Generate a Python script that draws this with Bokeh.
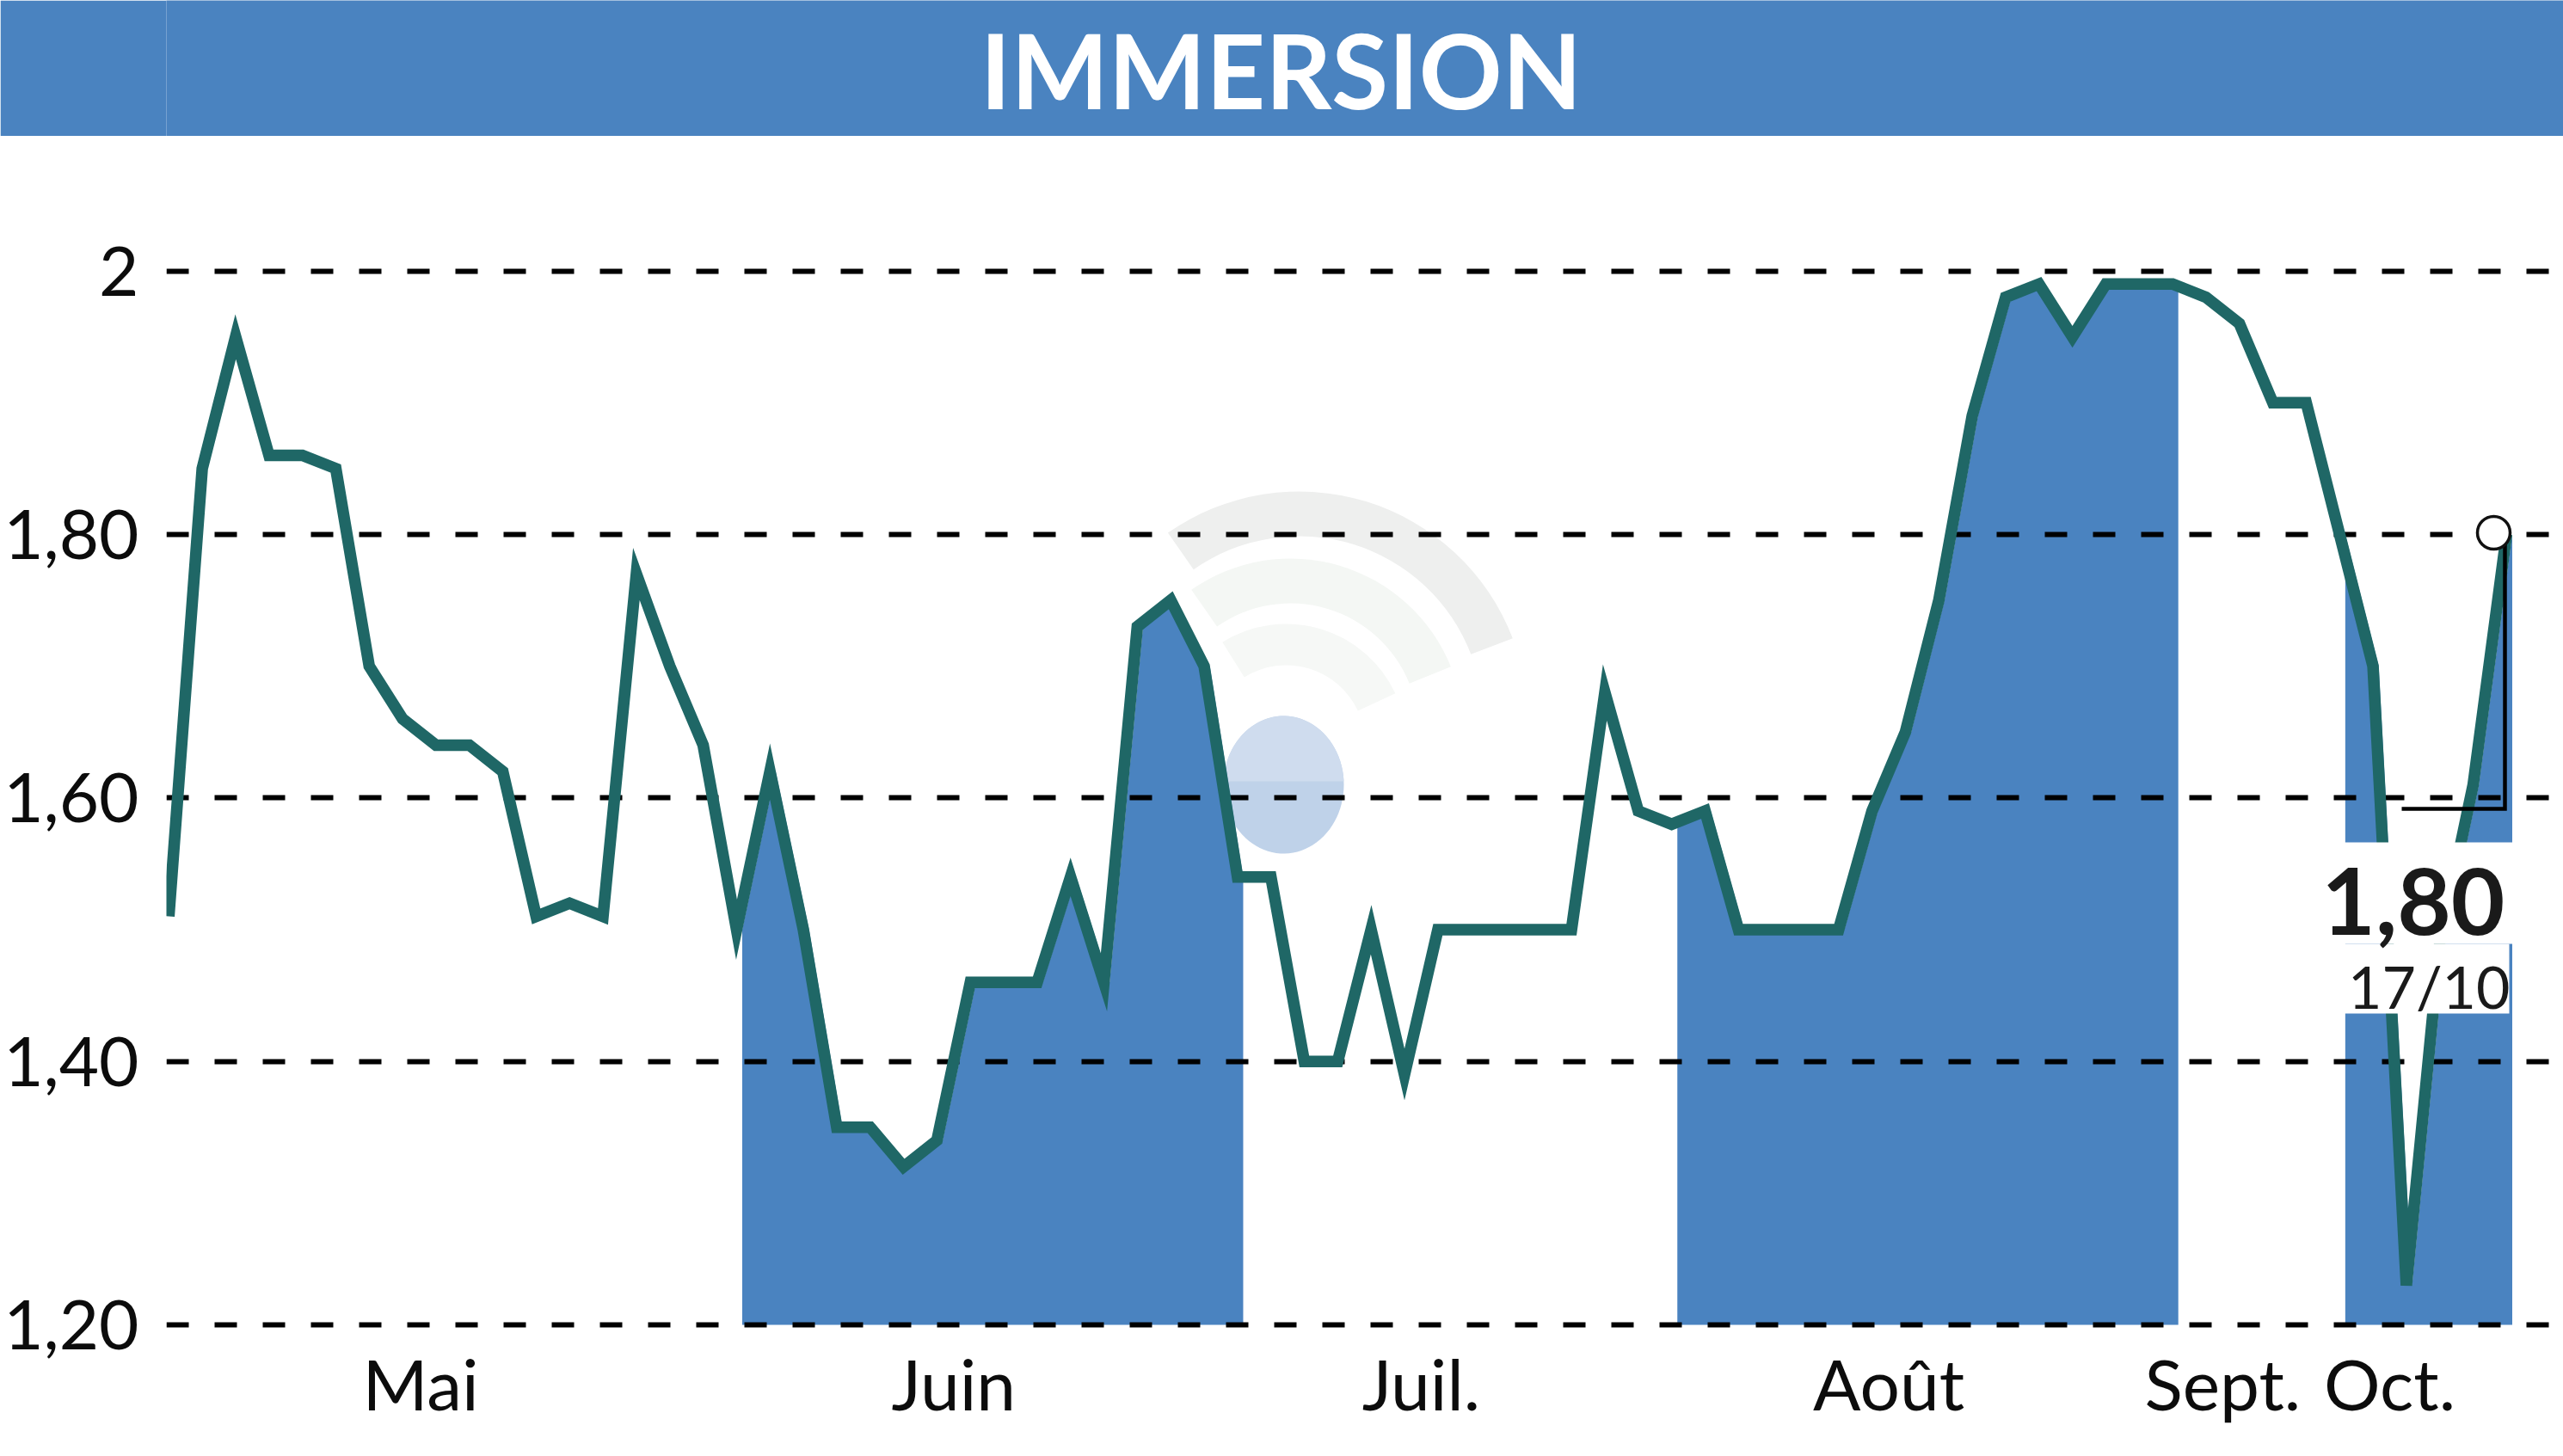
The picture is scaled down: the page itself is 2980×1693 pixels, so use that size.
from bokeh.plotting import figure
from bokeh.layouts import column
from bokeh.models import LinearAxis, FixedTicker, Range1d, Grid
from bokeh.core.properties import value
from bokeh.embed import file_html
from bokeh.resources import INLINE
import numpy as np

TITLE = "IMMERSION"
prices = [1.51,1.85,1.95,1.86,1.86,1.85,1.70,1.66,1.64,1.64,1.62,1.51,1.52,1.51,1.77,1.70,1.64,1.50,
          1.62,1.50,1.35,1.35,1.32,1.34,1.46,1.46,1.46,1.54,1.46,1.73,1.75,1.70,1.54,1.54,1.40,1.40,
          1.50,1.39,1.50,1.50,1.50,1.50,1.50,1.68,1.59,1.58,1.59,1.50,1.50,1.50,1.50,1.59,1.65,1.75,
          1.89,1.98,1.99,1.95,1.99,1.99,1.99,1.98,1.96,1.90,1.90,1.80,1.70,1.23,1.49,1.61,1.80]
bands = [(17, 32), (45, 60), (65, 70)]
y_ticks = [1.2, 1.4, 1.6, 1.8, 2.0]
y_labels = ["1,20", "1,40", "1,60", "1,80", "2"]
x_ticks = [7.54, 23.5, 37.5, 51.5, 61.5, 66.5]
x_labels = ["Mai", "Juin", "Juil.", "Août", "Sept.", "Oct."]
last_value = "1,80"
last_date = "17/10"

BLUE = "#4a83c0"
GREEN = "#1f6766"
FONT = "Lato"
W, H = 2980, 1693
BANNER = 158
FL, FB = 193, 1546          # frame edges in page pixels

X0, DX = 195.8, 38.83
Y0, DY = 1540.0, (1540.0 - 314.5) / 0.8
def dx(px): return (px - X0) / DX
def dy(py): return 1.2 + (Y0 - py) / DY

# banner as its own strip; the column lines its frame up with the chart's frame
head = figure(width=W, height=BANNER, x_range=Range1d(FL, W), y_range=Range1d(BANNER, 0),
              output_backend="svg", toolbar_location=None, tools="", x_axis_type=None, y_axis_type=None,
              min_border_left=FL, min_border_right=0, min_border_top=0, min_border_bottom=0,
              outline_line_color=None)
head.grid.visible = False
head.background_fill_color = BLUE
head.border_fill_color = BLUE
head.text(x=[1489], y=[80], text=[TITLE], text_font=value(FONT), text_font_style="bold",
          text_font_size="120px", text_color="white", text_align="center", text_baseline="middle")

p = figure(width=W, height=H - BANNER, x_range=Range1d(dx(FL), dx(W)), y_range=Range1d(dy(FB), dy(BANNER)),
           output_backend="svg", toolbar_location=None, tools="", x_axis_type=None, y_axis_type=None,
           min_border_left=FL, min_border_top=0, min_border_right=0, min_border_bottom=H - FB)
p.outline_line_color = None
p.background_fill_color = "white"

yax = LinearAxis(ticker=FixedTicker(ticks=y_ticks),
                 major_label_overrides=dict(zip(y_ticks, y_labels)))
xax = LinearAxis(ticker=FixedTicker(ticks=x_ticks),
                 major_label_overrides=dict(zip(x_ticks, x_labels)))
for ax, size, so in ((yax, "80px", 26), (xax, "82px", 6)):
    ax.axis_line_color = None
    ax.major_tick_line_color = None
    ax.minor_tick_line_color = None
    ax.major_label_text_font = FONT
    ax.major_label_text_font_size = size
    ax.major_label_text_color = "#0c0c0c"
    ax.major_label_standoff = so
p.add_layout(yax, "left")
p.add_layout(xax, "below")
p.add_layout(Grid(dimension=1, ticker=FixedTicker(ticks=y_ticks), grid_line_color="black",
                  grid_line_width=6, grid_line_dash="26 30", level="underlay"))

def arc(cx, cy, r, w, a0, a1, color):
    p.annular_wedge(x=[dx(cx)], y=[dy(cy)], inner_radius=r - w / 2, outer_radius=r + w / 2,
                    inner_radius_units="screen", outer_radius_units="screen",
                    start_angle=np.radians(a0), end_angle=np.radians(a1),
                    fill_color=color, line_color=None, level="image")
arc(1510, 837, 240, 52, 21, 125, "#eeefee")
arc(1500, 850, 175, 52, 22, 125, "#f4f7f4")
arc(1495, 865, 116, 48, 25, 122, "#f6f8f6")
t = np.linspace(0, 2 * np.pi, 90)
p.patch(dx(1492 + 70 * np.cos(t)), dy(912 - 80 * np.sin(t)), fill_color="#bfd2e9", line_color=None, level="image")
t2 = np.linspace(0.05, np.pi - 0.05, 60)
p.patch(dx(1492 + 70 * np.cos(t2)), dy(912 - 80 * np.sin(t2)),
        fill_color="#cfdcee", line_color=None, level="image")

FILL_SHIFT = 0.17
for a, b in bands:
    xs = np.arange(a, b + 1) + FILL_SHIFT
    p.varea(x=xs, y1=[1.2] * len(xs), y2=prices[a:b + 1], fill_color=BLUE, level="image")

p.line(x=list(range(len(prices))), y=prices, line_color=GREEN, line_width=13.5, line_join="miter")

p.quad(left=[dx(2700)], right=[dx(2935)], top=[dy(979)], bottom=[dy(1097)],
       fill_color="white", line_color=None)
p.quad(left=[dx(2720)], right=[dx(2917)], top=[dy(1097)], bottom=[dy(1178)],
       fill_color="white", line_color=None)

p.line(x=dx(np.array([2792, 2912, 2912])), y=dy(np.array([940, 940, 630])),
       line_color="black", line_width=4.5, line_join="miter")
p.scatter(x=[dx(2899)], y=[dy(619)], size=38, marker="circle", fill_color="white",
          line_color="#111111", line_width=3.5)

p.text(x=[dx(2912)], y=[dy(1047)], text=[last_value], text_font=value(FONT), text_font_style="bold",
       text_font_size="108px", text_color="#1a1a1a", text_align="right", text_baseline="alphabetic")
p.text(x=[dx(2918)], y=[dy(1146)], text=[last_date], text_font=value(FONT),
       text_font_size="68px", text_color="#1a1a1a", text_align="right", text_baseline="alphabetic")

page = column(head, p, spacing=0)
open("out.html", "w").write(file_html(page, INLINE, "IMMERSION"))
